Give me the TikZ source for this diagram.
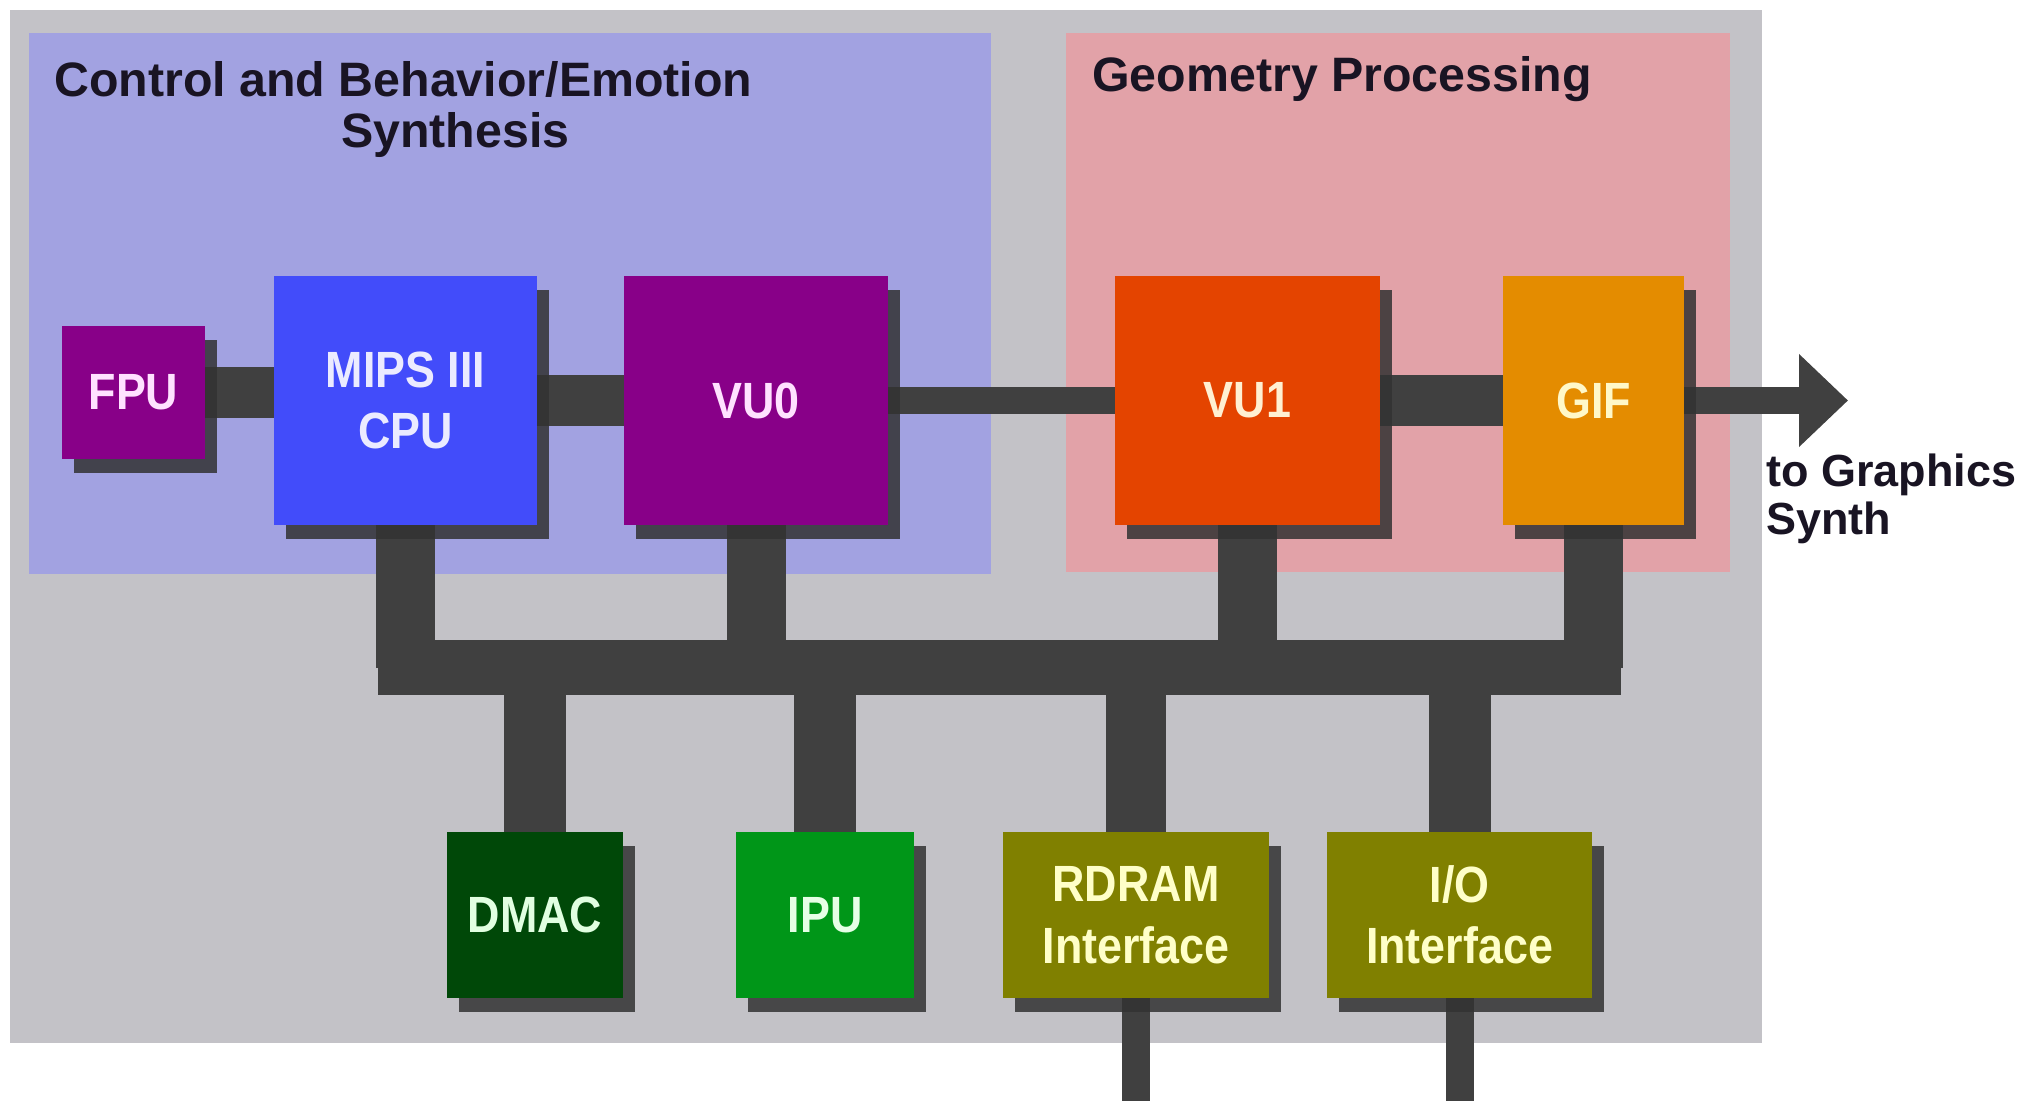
\documentclass[tikz,border=0pt]{standalone}
\usepackage{fontspec}
\setmainfont{Liberation Sans}
\newfontfamily\unitfont[FakeStretch=0.88]{Liberation Sans}
\usetikzlibrary{shadows,arrows.meta}

\definecolor{boardgray}{RGB}{195,194,199}
\definecolor{ctrlblue}{RGB}{162,162,225}
\definecolor{geompink}{RGB}{226,162,168}
\definecolor{linkgray}{RGB}{64,64,64}
\definecolor{shadowgray}{RGB}{50,50,50}
\definecolor{titleink}{RGB}{25,20,35}
\definecolor{vupurple}{RGB}{136,0,136}
\definecolor{cpublue}{RGB}{66,76,250}
\definecolor{vuorange}{RGB}{228,68,0}
\definecolor{gifamber}{RGB}{228,140,0}
\definecolor{dmacgreen}{RGB}{0,72,8}
\definecolor{ipugreen}{RGB}{0,150,24}
\definecolor{ifolive}{RGB}{128,128,0}

\pgfdeclarelayer{regions}
\pgfdeclarelayer{wires}
\pgfsetlayers{regions,wires,main}

\tikzset{%
  unit/.style={rectangle, inner sep=0pt, fill=#1, align=center,
    font=\unitfont\bfseries\fontsize{29}{35}\selectfont,
    drop shadow={shadow xshift=0.24cm, shadow yshift=-0.28cm,
      fill=shadowgray, opacity=0.85}},
  unit/.default=vupurple,
  link/.style={line width=#1, draw=linkgray},
  link/.default=1.04cm,
  caption/.style={anchor=north west, inner sep=0pt, align=left,
    text=titleink, font=\bfseries\fontsize{27.5}{29}\selectfont}
}

\begin{document}
\begin{tikzpicture}[x=0.02cm, y=-0.02cm]

    \useasboundingbox (0,0) rectangle (2031,1101);

    % processor units
    \node[unit, text={rgb,255:red,255;green,225;blue,255}, minimum width=2.86cm, minimum height=2.66cm] (fpu) at (133.5,392.5) {FPU};
    \node[unit=cpublue, text={rgb,255:red,235;green,235;blue,255}, minimum width=5.26cm, minimum height=4.98cm] (mips) at (405.5,400.5) {MIPS III\\CPU};
    \node[unit, text={rgb,255:red,255;green,225;blue,255}, minimum width=5.28cm, minimum height=4.98cm] (vu0) at (756,400.5) {VU0};
    \node[unit=vuorange, text={rgb,255:red,255;green,240;blue,210}, minimum width=5.3cm, minimum height=4.98cm] (vu1) at (1247.5,400.5) {VU1};
    \node[unit=gifamber, text={rgb,255:red,255;green,248;blue,200}, minimum width=3.62cm, minimum height=4.98cm] (gif) at (1593.5,400.5) {GIF};

    % units on the lower bus
    \node[unit=dmacgreen, text={rgb,255:red,225;green,255;blue,225}, minimum width=3.52cm, minimum height=3.32cm] (dmac) at (535,915) {DMAC};
    \node[unit=ipugreen, text={rgb,255:red,230;green,255;blue,230}, minimum width=3.56cm, minimum height=3.32cm] (ipu) at (825,915) {IPU};
    \node[unit=ifolive, text={rgb,255:red,255;green,255;blue,200}, minimum width=5.32cm, minimum height=3.32cm] (rdram) at (1136,915) {RDRAM\\Interface};
    \node[unit=ifolive, text={rgb,255:red,255;green,255;blue,200}, minimum width=5.3cm, minimum height=3.32cm] (io) at (1459.5,915) {I/O\\Interface};

    % labels
    \node[caption] (ctrltitle) at (54,61) {Control and Behavior/Emotion\\\hspace*{5.74cm}Synthesis};
    \node[caption] (geomtitle) at (1092,56) {Geometry Processing};
    \node[caption, font=\bfseries\fontsize{25.6}{26.8}\selectfont] (gslabel) at (1766,454) {to Graphics\\Synth};

    % free ends
    \coordinate (busw) at (mips |- 0,667.5);
    \coordinate (buse) at (gif |- 0,667.5);
    \coordinate (gsout) at (1848,400.5);
    \coordinate (rdramout) at (rdram |- 0,1101);
    \coordinate (ioout) at (io |- 0,1101);

    % background regions
    \begin{pgfonlayer}{regions}
        \fill[white] (0,0) rectangle (2031,1101);
        \fill[boardgray] (10,10) rectangle (1762,1043);
        \fill[ctrlblue] (29,33) rectangle (991,574);
        \fill[geompink] (1066,33) rectangle (1730,572);
    \end{pgfonlayer}

    % connections
    \begin{pgfonlayer}{wires}
        \draw[link] (fpu.east) -- (fpu.east -| mips.west);
        \draw[link] (mips) -- (vu0);
        \draw[link=0.54cm] (vu0) -- (vu1);
        \draw[link] (vu1) -- (gif);
        \draw[link=0.54cm, -{Triangle[length=0.98cm, width=1.8cm]}] (gif.east) -- (gsout);

        \draw[link=1.1cm, line cap=rect] (busw) -- (buse);
        \draw[link=1.18cm] (mips.south) -- (busw);
        \draw[link=1.18cm] (vu0.south) -- (vu0 |- busw);
        \draw[link=1.18cm] (vu1.south) -- (vu1 |- busw);
        \draw[link=1.18cm] (gif.south) -- (buse);

        \draw[link=1.24cm] (dmac.north) -- (dmac |- busw);
        \draw[link=1.24cm] (ipu.north) -- (ipu |- busw);
        \draw[link=1.2cm] (rdram.north) -- (rdram |- busw);
        \draw[link=1.24cm] (io.north) -- (io |- busw);

        \draw[link=0.56cm] (rdram.south) -- (rdramout);
        \draw[link=0.56cm] (io.south) -- (ioout);
    \end{pgfonlayer}

\end{tikzpicture}
\end{document}
